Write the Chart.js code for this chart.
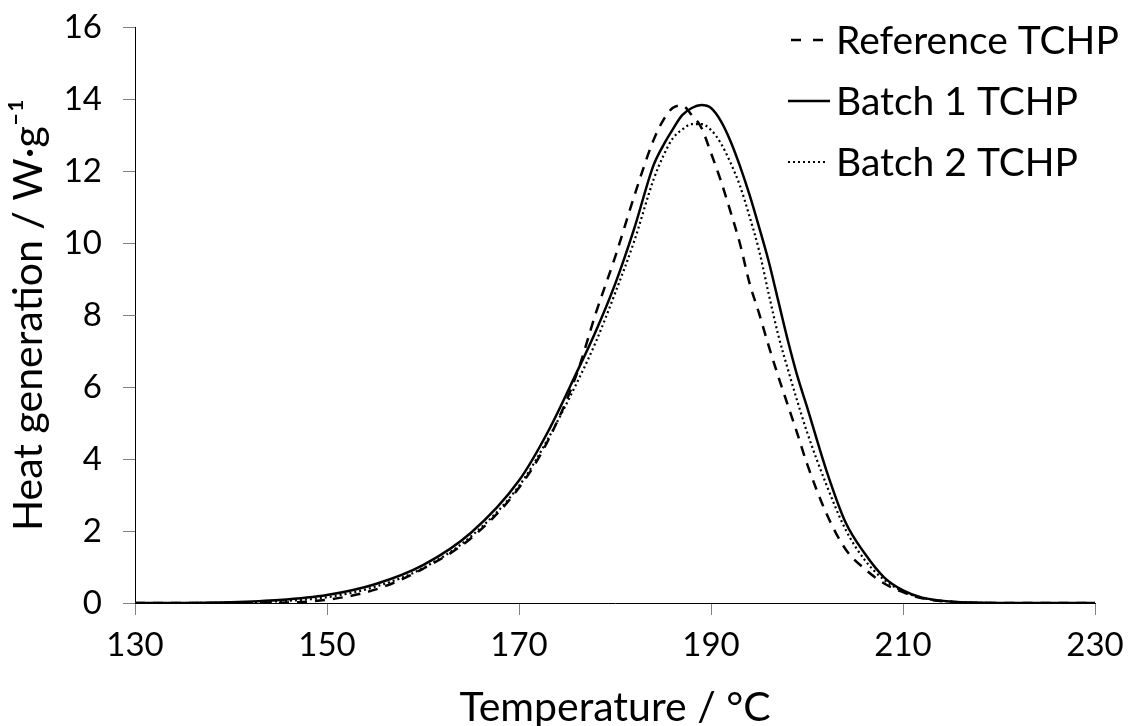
<!DOCTYPE html>
<html>
<head>
<meta charset="utf-8">
<script src="https://cdn.jsdelivr.net/npm/chart.js@4.4.0/dist/chart.umd.min.js"></script>
<style>
  html, body { margin: 0; padding: 0; background: #fff; }
  #wrap { width: 1128px; height: 726px; position: relative; }
</style>
</head>
<body>
<div id="wrap"><canvas id="dsc"></canvas></div>
<script>
// temperatures (°C) shared by the three runs
const temps = [130, 135, 140, 145, 150, 155, 160, 165, 170, 173, 176, 178, 180, 182, 184, 185, 186, 187, 188, 189,
               190, 191, 192, 193, 194, 195, 196, 197, 198, 199, 200, 202, 204, 206, 208, 210, 212, 215, 220, 225, 230];

// heat generation (W/g)
const referenceTCHP = [0, 0, 0, 0.01, 0.09, 0.37, 0.95, 1.8, 3.2, 4.5, 6.35, 8.05, 9.6, 11.3, 12.85, 13.4, 13.75, 13.82, 13.55, 13.2,
                       12.5, 11.75, 10.9, 10.0, 8.9, 8.05, 7.15, 6.3, 5.5, 4.7, 3.87, 2.5, 1.5, 0.95, 0.55, 0.3, 0.13, 0.03, 0, 0, 0];
const batch1TCHP = [0, 0, 0.02, 0.08, 0.22, 0.52, 1.05, 1.95, 3.4, 4.75, 6.4, 7.55, 8.85, 10.4, 12.15, 12.7, 13.15, 13.55, 13.75, 13.83,
                    13.75, 13.4, 12.85, 12.15, 11.35, 10.45, 9.5, 8.4, 7.3, 6.3, 5.45, 3.7, 2.25, 1.38, 0.72, 0.35, 0.15, 0.04, 0, 0, 0];
const batch2TCHP = [0, 0, 0.01, 0.05, 0.16, 0.45, 0.97, 1.85, 3.25, 4.55, 6.1, 7.25, 8.6, 10.05, 11.75, 12.4, 12.9, 13.15, 13.3, 13.3,
                    13.14, 12.78, 12.25, 11.6, 10.75, 9.8, 8.6, 7.45, 6.5, 5.6, 4.75, 3.3, 2.05, 1.2, 0.65, 0.32, 0.14, 0.04, 0, 0, 0];

const seriesNames = ['Reference TCHP', 'Batch 1 TCHP', 'Batch 2 TCHP'];
const xTicks = [130, 150, 170, 190, 210, 230];
const yTicks = [0, 2, 4, 6, 8, 10, 12, 14, 16];

const FONT = 'Lato, "Open Sans", sans-serif';

function toPoints(vals) {
    return temps.map((t, i) => ({ x: t, y: vals[i] }));
}

// legend drawn inside the plot, top right, with the line samples on the left
const cornerLegend = {
    id: 'cornerLegend',
    afterDraw(chart) {
        const ctx = chart.ctx;
        const rows = [40, 101, 162];
        ctx.save();
        ctx.font = '39px ' + FONT;
        ctx.fillStyle = '#000';
        ctx.textBaseline = 'middle';
        chart.data.datasets.forEach((ds, i) => {
            const y = rows[i];
            ctx.beginPath();
            ctx.strokeStyle = '#000';
            ctx.lineWidth = ds.borderWidth;
            ctx.setLineDash(i === 0 ? [10, 12] : (ds.borderDash || []));
            ctx.moveTo(i === 0 ? 791 : 788, y);
            ctx.lineTo(i === 2 ? 826 : 830, y);
            ctx.stroke();
            ctx.setLineDash([]);
            ctx.fillText(ds.label, 836, y + 1);
        });
        ctx.restore();
    }
};

document.addEventListener('DOMContentLoaded', function () {
    const ctx = document.getElementById('dsc').getContext('2d');
    const dscChart = new Chart(ctx, {
        type: 'line',
        data: {
            datasets: [
                { label: seriesNames[0], data: toPoints(referenceTCHP), borderColor: '#000', borderWidth: 2.5, borderDash: [10, 8] },
                { label: seriesNames[1], data: toPoints(batch1TCHP), borderColor: '#000', borderWidth: 2.5 },
                { label: seriesNames[2], data: toPoints(batch2TCHP), borderColor: '#000', borderWidth: 2.2, borderDash: [2, 3] }
            ]
        },
        options: {
            responsive: true,
            maintainAspectRatio: false,
            animation: false,
            elements: {
                point: { radius: 0 },
                line: { cubicInterpolationMode: 'monotone', fill: false }
            },
            layout: { padding: { top: 27, right: 33, left: 0, bottom: 0 } },
            plugins: {
                legend: { display: false },
                tooltip: { enabled: false }
            },
            scales: {
                x: {
                    type: 'linear',
                    min: 130,
                    max: 230,
                    afterFit: s => { s.height = 123; s.paddingLeft = 0; s.paddingRight = 0; },
                    afterBuildTicks: s => { s.ticks = xTicks.map(v => ({ value: v })); },
                    border: { color: '#000', width: 1 },
                    grid: { drawOnChartArea: false, tickLength: 12, color: '#808080', lineWidth: 1 },
                    ticks: { color: '#000', font: { family: FONT, size: 33 }, padding: 11, maxRotation: 0 },
                    title: { display: true, text: 'Temperature / °C', color: '#000', font: { family: FONT, size: 41, lineHeight: 0.8 }, padding: { top: 0, bottom: 2 } }
                },
                y: {
                    min: 0,
                    max: 16,
                    afterFit: s => { s.width = 135; s.paddingTop = 0; s.paddingBottom = 0; },
                    afterBuildTicks: s => { s.ticks = yTicks.map(v => ({ value: v })); },
                    border: { color: '#000', width: 1 },
                    grid: { drawOnChartArea: false, tickLength: 12, color: '#808080', lineWidth: 1 },
                    ticks: { color: '#000', font: { family: FONT, size: 33 }, padding: 21 },
                    title: { display: true, text: 'Heat generation / W·g⁻¹', color: '#000', font: { family: FONT, size: 41, lineHeight: 0.8 }, padding: { top: 12, bottom: 0 } }
                }
            }
        },
        plugins: [cornerLegend]
    });
});
</script>
</body>
</html>
